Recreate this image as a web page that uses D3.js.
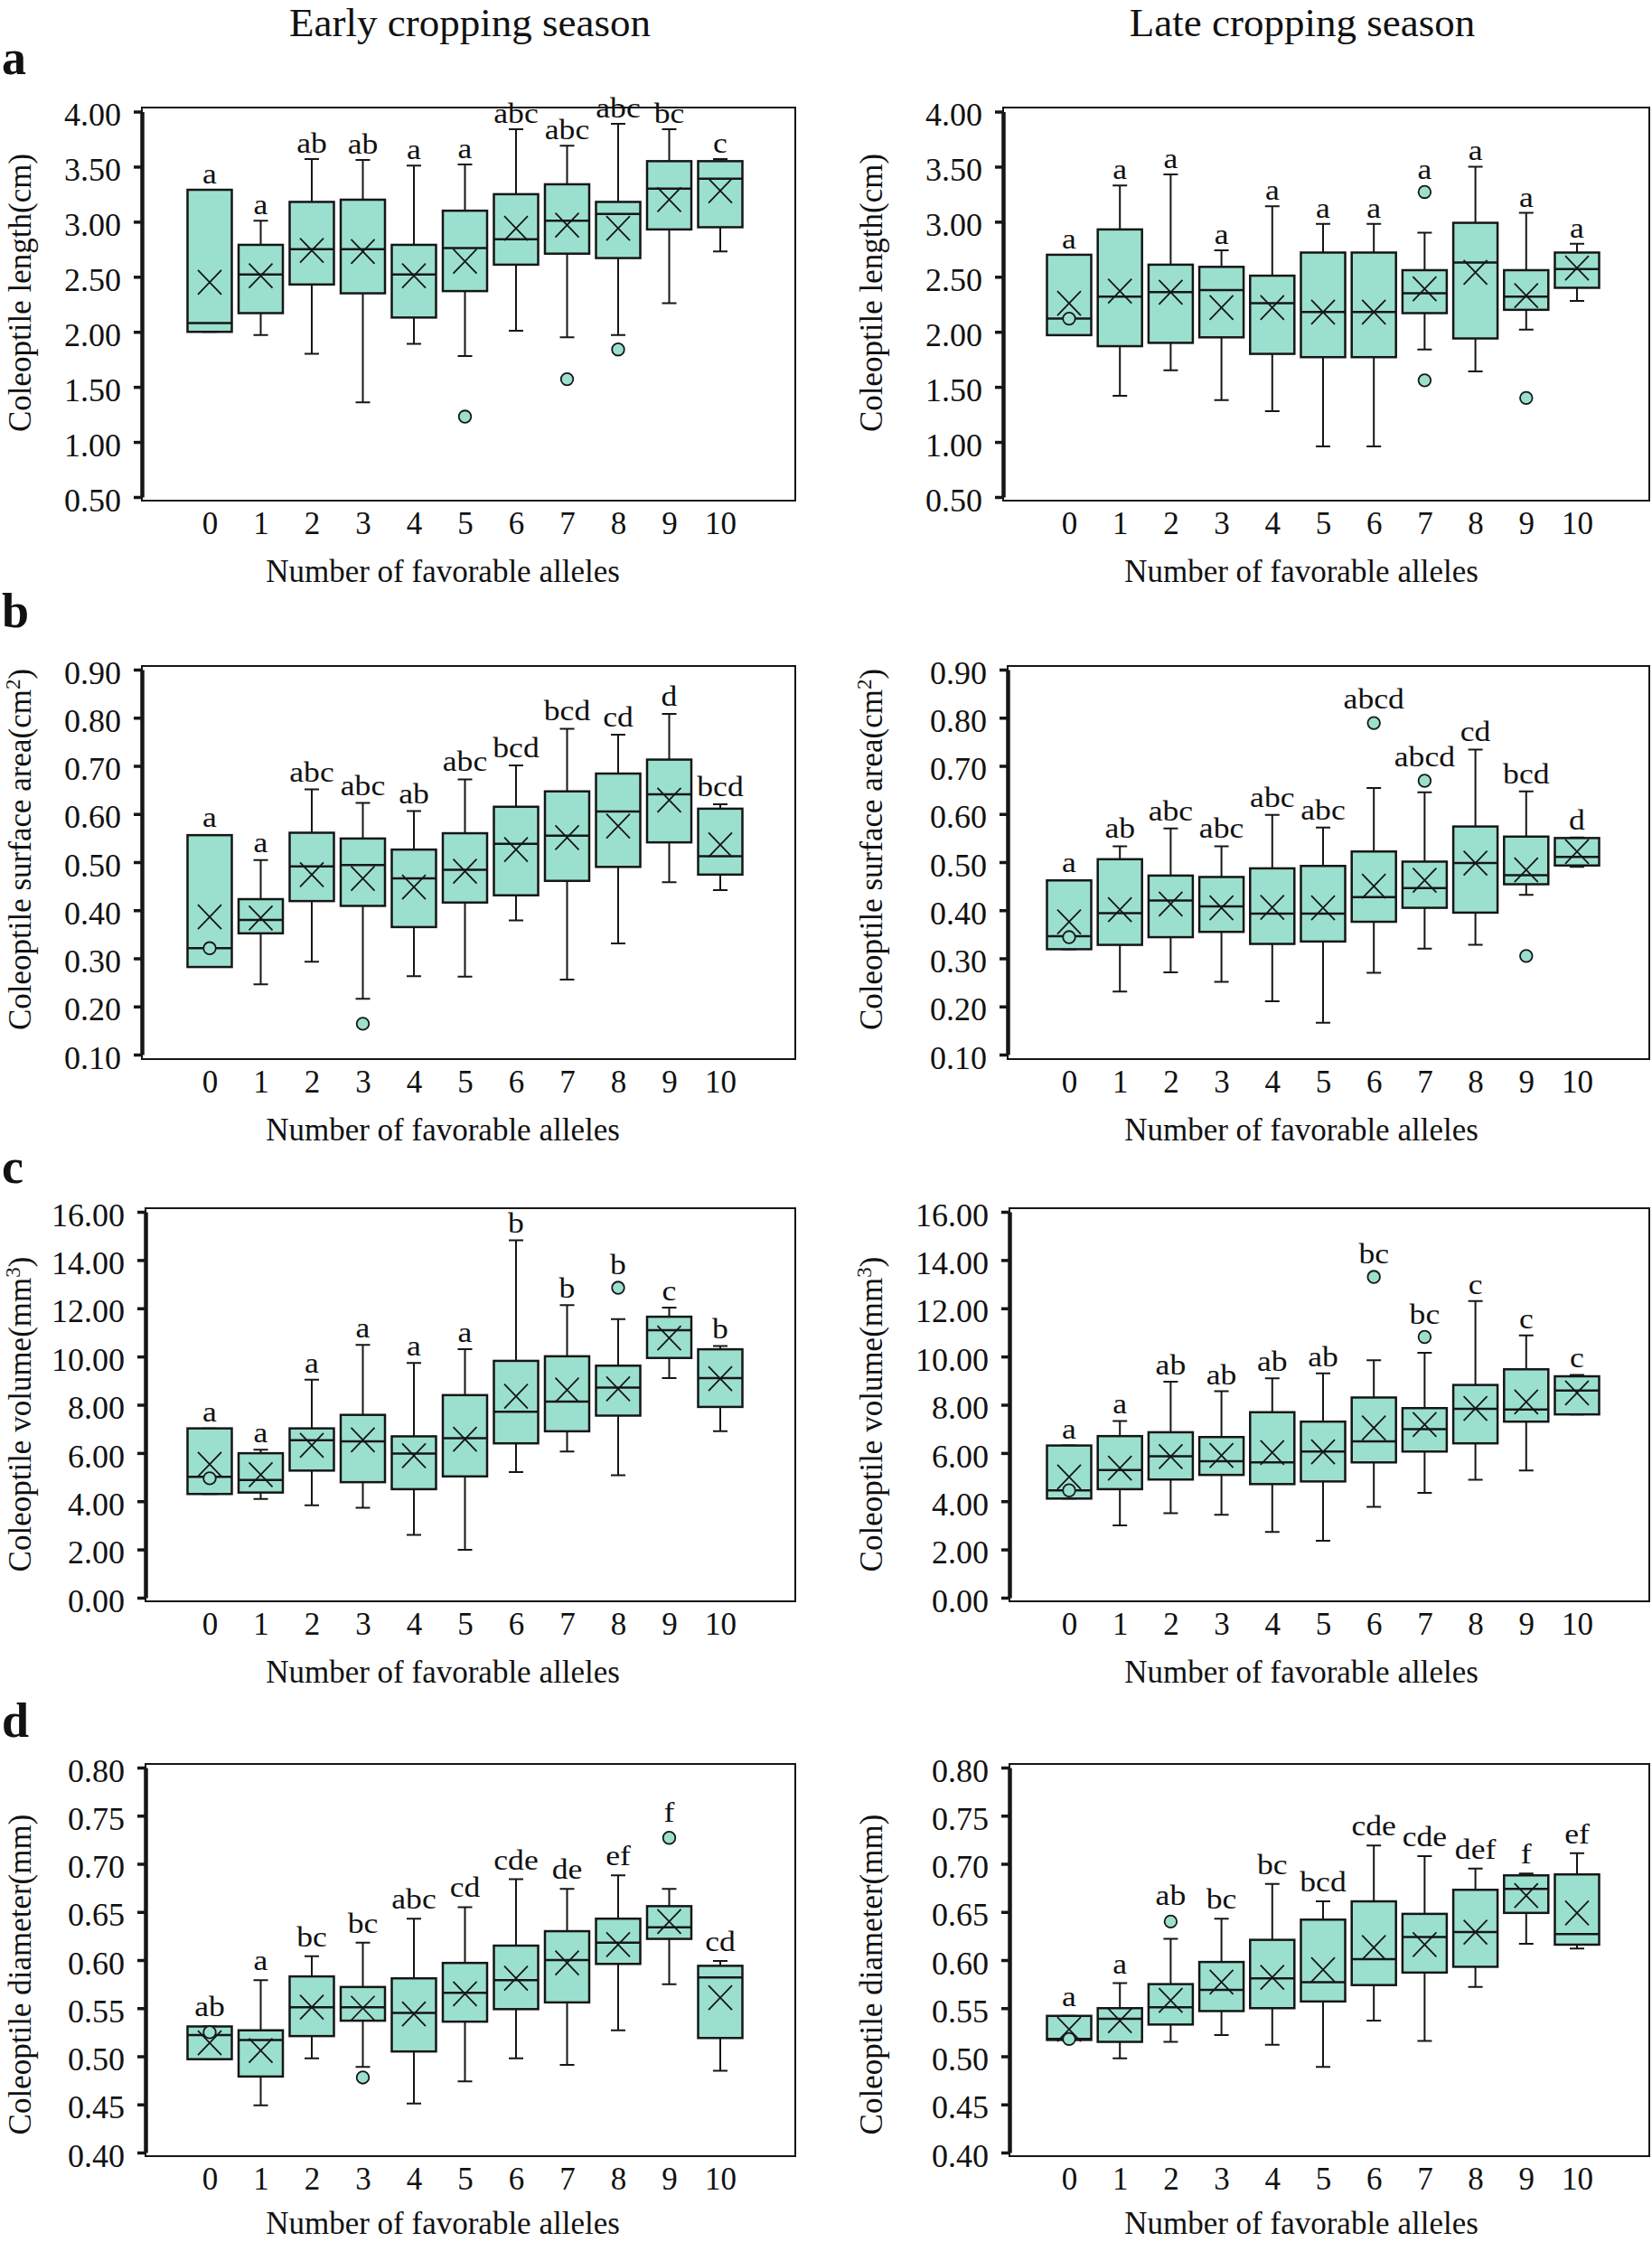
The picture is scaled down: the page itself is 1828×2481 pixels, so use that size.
<!DOCTYPE html>
<html>
<head>
<meta charset="utf-8">
<script src="https://cdn.jsdelivr.net/npm/d3@7"></script>
<style>
  body { margin: 0; background: #fff; }
  svg { display: block; }
  text { font-family: "Liberation Serif", "Times New Roman", serif; fill: #111; }
</style>
</head>
<body>
<svg id="fig"></svg>
<script>
const W = 1828, H = 2481
const categories = d3.range(0, 11)

// [min, q1, median, q3, max] per number of favorable alleles
const lengthEarlyBox = [[2.00,2.00,2.08,3.29,3.29],[1.97,2.17,2.52,2.79,3.01],[1.80,2.43,2.75,3.18,3.57],[1.36,2.35,2.75,3.20,3.56],[1.89,2.13,2.52,2.79,3.51],[1.78,2.37,2.76,3.10,3.52],[2.01,2.61,2.84,3.25,3.84],[1.95,2.71,3.01,3.34,3.69],[1.97,2.67,3.07,3.18,3.89],[2.26,2.93,3.30,3.55,3.84],[2.73,2.95,3.39,3.55,3.57]]
const lengthEarlyMean = [2.45,2.51,2.74,2.73,2.51,2.64,2.94,2.97,2.94,3.20,3.28]
const lengthEarlyOut = [[],[],[],[],[],[1.23],[],[1.57],[1.84],[],[]]
const lengthEarlyLetters = ['a','a','ab','ab','a','a','abc','abc','abc','bc','c']

const lengthLateBox = [[1.97,1.97,2.12,2.70,2.70],[1.42,1.87,2.32,2.93,3.33],[1.65,1.90,2.36,2.61,3.43],[1.38,1.95,2.38,2.59,2.74],[1.28,1.80,2.26,2.51,3.14],[0.96,1.77,2.18,2.72,2.98],[0.96,1.77,2.18,2.72,2.98],[1.84,2.17,2.35,2.56,2.90],[1.64,1.94,2.63,2.99,3.50],[2.02,2.20,2.32,2.56,3.08],[2.28,2.40,2.57,2.72,2.80]]
const lengthLateMean = [2.26,2.37,2.36,2.22,2.22,2.18,2.18,2.39,2.54,2.33,2.58]
const lengthLateOut = [[2.12],[],[],[],[],[],[],[3.27,1.56],[],[1.40],[]]
const lengthLateLetters = ['a','a','a','a','a','a','a','a','a','a','a']

const areaEarlyBox = [[0.282,0.282,0.321,0.556,0.556],[0.246,0.352,0.380,0.423,0.504],[0.293,0.419,0.491,0.561,0.651],[0.216,0.409,0.494,0.549,0.623],[0.263,0.365,0.466,0.526,0.606],[0.262,0.416,0.484,0.560,0.672],[0.379,0.431,0.538,0.615,0.701],[0.256,0.461,0.555,0.647,0.777],[0.331,0.490,0.605,0.684,0.765],[0.458,0.541,0.641,0.713,0.808],[0.442,0.474,0.512,0.611,0.620]]
const areaEarlyMean = [0.386,0.384,0.474,0.466,0.448,0.481,0.526,0.551,0.575,0.629,0.536]
const areaEarlyOut = [[0.321],[],[],[0.164],[],[],[],[],[],[],[]]
const areaEarlyLetters = ['a','a','abc','abc','ab','abc','bcd','bcd','cd','d','bcd']

const areaLateBox = [[0.319,0.319,0.346,0.462,0.462],[0.231,0.328,0.394,0.506,0.533],[0.271,0.344,0.420,0.472,0.570],[0.251,0.355,0.408,0.469,0.533],[0.211,0.330,0.393,0.487,0.598],[0.166,0.335,0.393,0.492,0.572],[0.270,0.376,0.427,0.522,0.654],[0.320,0.405,0.446,0.501,0.645],[0.328,0.395,0.498,0.574,0.734],[0.432,0.454,0.473,0.553,0.647],[0.490,0.493,0.511,0.550,0.551]]
const areaLateMean = [0.376,0.401,0.413,0.405,0.406,0.405,0.450,0.462,0.498,0.484,0.522]
const areaLateOut = [[0.344],[],[],[],[],[],[0.789],[0.669],[],[0.305],[]]
const areaLateLetters = ['a','ab','abc','abc','abc','abc','abcd','abcd','cd','bcd','d']

const volumeEarlyBox = [[4.30,4.30,5.01,7.02,7.02],[4.09,4.36,4.88,5.99,6.14],[3.83,5.27,6.53,7.02,9.04],[3.73,4.79,6.48,7.58,10.48],[2.60,4.50,5.98,6.69,9.73],[1.99,5.03,6.61,8.40,10.30],[5.21,6.40,7.71,9.82,14.82],[6.06,6.90,8.13,10.01,12.13],[5.08,7.55,8.71,9.62,11.55],[9.11,9.94,11.09,11.65,12.03],[6.90,7.91,9.11,10.30,10.44]]
const volumeEarlyMean = [5.53,5.10,6.32,6.54,5.89,6.57,8.35,8.61,8.66,10.77,9.08]
const volumeEarlyOut = [[4.95],[],[],[],[],[],[],[],[12.85],[],[]]
const volumeEarlyLetters = ['a','a','a','a','a','a','b','b','b','c','b']

const volumeLateBox = [[4.11,4.11,4.45,6.31,6.31],[3.00,4.50,5.29,6.70,7.33],[3.50,4.90,5.86,6.86,8.96],[3.44,5.09,5.66,6.66,8.56],[2.73,4.71,5.61,7.69,9.10],[2.36,4.82,6.06,7.30,9.30],[3.77,5.61,6.48,8.30,9.85],[4.35,6.06,6.99,7.86,10.15],[4.89,6.40,7.83,8.82,12.30],[5.27,7.30,7.80,9.47,10.88],[7.60,7.60,8.59,9.18,9.24]]
const volumeLateMean = [5.01,5.37,5.85,5.90,6.02,6.05,7.04,7.18,7.85,8.12,8.49]
const volumeLateOut = [[4.45],[],[],[],[],[],[13.30],[10.81],[],[],[]]
const volumeLateLetters = ['a','a','ab','ab','ab','ab','bc','bc','c','c','c']

const diameterEarlyBox = [[0.497,0.497,0.522,0.531,0.531],[0.449,0.479,0.517,0.527,0.579],[0.498,0.521,0.551,0.583,0.604],[0.489,0.537,0.551,0.572,0.618],[0.451,0.505,0.545,0.581,0.643],[0.474,0.536,0.566,0.597,0.655],[0.498,0.549,0.579,0.615,0.684],[0.491,0.556,0.600,0.630,0.674],[0.527,0.596,0.618,0.643,0.688],[0.575,0.622,0.634,0.656,0.674],[0.485,0.519,0.582,0.594,0.599]]
const diameterEarlyMean = [0.514,0.506,0.551,0.550,0.544,0.565,0.581,0.597,0.616,0.640,0.561]
const diameterEarlyOut = [[0.525],[],[],[0.478],[],[],[],[],[],[0.727],[]]
const diameterEarlyLetters = ['ab','a','bc','bc','abc','cd','cde','de','ef','f','cd']

const diameterLateBox = [[0.517,0.517,0.518,0.542,0.542],[0.498,0.515,0.539,0.550,0.576],[0.515,0.533,0.551,0.575,0.622],[0.522,0.547,0.569,0.598,0.643],[0.512,0.550,0.581,0.621,0.679],[0.489,0.557,0.577,0.642,0.661],[0.537,0.574,0.601,0.661,0.719],[0.516,0.587,0.624,0.648,0.708],[0.572,0.593,0.629,0.673,0.695],[0.617,0.649,0.674,0.688,0.690],[0.612,0.616,0.627,0.689,0.711]]
const diameterLateMean = [0.528,0.537,0.558,0.577,0.582,0.590,0.613,0.616,0.629,0.667,0.649]
const diameterLateOut = [[0.518],[],[0.640],[],[],[],[],[],[],[],[]]
const diameterLateLetters = ['a','a','ab','bc','bc','bcd','cde','cde','def','f','ef']

const lengthTicks = [0.5,1.0,1.5,2.0,2.5,3.0,3.5,4.0]
const areaTicks = [0.1,0.2,0.3,0.4,0.5,0.6,0.7,0.8,0.9]
const volumeTicks = [0,2,4,6,8,10,12,14,16]
const diameterTicks = [0.40,0.45,0.50,0.55,0.60,0.65,0.70,0.75,0.80]

const seasons = ['Early cropping season', 'Late cropping season']
const xTitle = 'Number of favorable alleles'

// layout, in page pixels
const cols = [
  {axisX: [157,157,161,161], right: 880, cat0: 232, cat10: 797, yTitleX: 22, xTitleX: 490, seasonX: 520},
  {axisX: [1110,1115,1117,1117], right: 1825, cat0: 1183, cat10: 1745, yTitleX: 964, xTitleX: 1440, seasonX: 1441}
]
const rows = [
  {y0: 119, y1: 554, vTop: 123.5, vBot: 550, titleC: 324, gap: 7, tag: 'a', tagY: 82, title: ['Coleoptile length(cm)']},
  {y0: 737, y1: 1172, vTop: 741, vBot: 1167, titleC: 940, gap: 9, tag: 'b', tagY: 694, title: ['Coleoptile surface area(cm', '2', ')']},
  {y0: 1337, y1: 1772, vTop: 1341, vBot: 1768, titleC: 1565, gap: 8, tag: 'c', tagY: 1309, title: ['Coleoptile volume(mm', '3', ')']},
  {y0: 1952, y1: 2386, vTop: 1956, vBot: 2382, titleC: 2185, gap: 11, tag: 'd', tagY: 1922, title: ['Coleoptile diameter(mm)']}
]

const panels = [
  {row: 0, col: 0, box: lengthEarlyBox, mean: lengthEarlyMean, out: lengthEarlyOut, letters: lengthEarlyLetters, ticks: lengthTicks},
  {row: 0, col: 1, box: lengthLateBox, mean: lengthLateMean, out: lengthLateOut, letters: lengthLateLetters, ticks: lengthTicks},
  {row: 1, col: 0, box: areaEarlyBox, mean: areaEarlyMean, out: areaEarlyOut, letters: areaEarlyLetters, ticks: areaTicks},
  {row: 1, col: 1, box: areaLateBox, mean: areaLateMean, out: areaLateOut, letters: areaLateLetters, ticks: areaTicks},
  {row: 2, col: 0, box: volumeEarlyBox, mean: volumeEarlyMean, out: volumeEarlyOut, letters: volumeEarlyLetters, ticks: volumeTicks},
  {row: 2, col: 1, box: volumeLateBox, mean: volumeLateMean, out: volumeLateOut, letters: volumeLateLetters, ticks: volumeTicks},
  {row: 3, col: 0, box: diameterEarlyBox, mean: diameterEarlyMean, out: diameterEarlyOut, letters: diameterEarlyLetters, ticks: diameterTicks},
  {row: 3, col: 1, box: diameterLateBox, mean: diameterLateMean, out: diameterLateOut, letters: diameterLateLetters, ticks: diameterTicks}
]

const fill = '#9be0cf', ink = '#161616'

const svg = d3.select('#fig')
  .attr('width', W).attr('height', H)

svg.selectAll('text.season')
  .data(seasons)
  .join('text')
    .attr('class', 'season')
    .attr('x', (d, i) => cols[i].seasonX)
    .attr('y', 40)
    .attr('text-anchor', 'middle')
    .attr('font-size', 45)
    .text(d => d)

svg.selectAll('text.tag')
  .data(rows)
  .join('text')
    .attr('class', 'tag')
    .attr('x', 2)
    .attr('y', d => d.tagY)
    .attr('font-size', 54)
    .attr('font-weight', 'bold')
    .text(d => d.tag)

const boxW = 49, capW = 16, hx = 13, hy = 13.5

panels.forEach(p => {
  const c = cols[p.col], r = rows[p.row]
  const ax = c.axisX[p.row]
  const x = d3.scalePoint().domain(categories).range([c.cat0, c.cat10])
  const y = d3.scaleLinear()
    .domain([p.ticks[0], p.ticks[p.ticks.length - 1]])
    .range([r.vBot, r.vTop])
  const g = svg.append('g')

  g.append('rect')
    .attr('x', ax).attr('y', r.y0)
    .attr('width', c.right - ax).attr('height', r.y1 - r.y0)
    .attr('fill', 'none').attr('stroke', ink).attr('stroke-width', 2)

  const ya = g.append('g')
    .attr('transform', `translate(${ax},0)`)
    .call(d3.axisLeft(y).tickValues(p.ticks).tickFormat(d3.format('.2f'))
      .tickSize(9).tickSizeOuter(0).tickPadding(14))
    .attr('font-size', 36)
  ya.select('.domain').attr('stroke', ink).attr('stroke-width', 4.5)
  ya.selectAll('.tick line').attr('stroke', ink).attr('stroke-width', 3.5)
  ya.selectAll('.tick text').attr('dy', '0.42em')

  const xa = g.append('g')
    .attr('transform', `translate(0,${r.y1})`)
    .call(d3.axisBottom(x).tickSize(0).tickPadding(12))
    .attr('font-size', 35)
  xa.select('.domain').remove()

  // y title, rotated
  const yt = g.append('text')
    .attr('transform', `translate(${c.yTitleX},${r.titleC}) rotate(-90)`)
    .attr('text-anchor', 'middle')
    .attr('dy', '0.35em')
    .attr('font-size', 35)
  yt.append('tspan').text(r.title[0])
  if (r.title.length > 1) {
    yt.append('tspan').attr('font-size', 23).attr('baseline-shift', 'super').text(r.title[1])
    yt.append('tspan').text(r.title[2])
  }

  g.append('text')
    .attr('x', c.xTitleX).attr('y', Math.min(r.y1 + 90, H - 9))
    .attr('text-anchor', 'middle')
    .attr('font-size', 35)
    .text(xTitle)

  const items = g.selectAll('g.bx')
    .data(p.box.map((b, i) => ({cat: categories[i], b, mean: p.mean[i], out: p.out[i], lab: p.letters[i]})))
    .join('g')
      .attr('class', 'bx')

  items.append('path')
    .attr('d', d => {
      const cx = x(d.cat)
      return `M${cx},${y(d.b[3])}V${y(d.b[4])}M${cx - capW / 2},${y(d.b[4])}H${cx + capW / 2}` +
        `M${cx},${y(d.b[1])}V${y(d.b[0])}M${cx - capW / 2},${y(d.b[0])}H${cx + capW / 2}`
    })
    .attr('stroke', ink).attr('stroke-width', 2).attr('fill', 'none')

  items.append('rect')
    .attr('x', d => x(d.cat) - boxW / 2)
    .attr('y', d => y(d.b[3]))
    .attr('width', boxW)
    .attr('height', d => y(d.b[1]) - y(d.b[3]))
    .attr('fill', fill).attr('stroke', ink).attr('stroke-width', 2.5)

  items.append('line')
    .attr('x1', d => x(d.cat) - boxW / 2).attr('x2', d => x(d.cat) + boxW / 2)
    .attr('y1', d => y(d.b[2])).attr('y2', d => y(d.b[2]))
    .attr('stroke', ink).attr('stroke-width', 2.5)

  items.append('path')
    .attr('d', d => {
      const cx = x(d.cat), cy = y(d.mean)
      return `M${cx - hx},${cy - hy}L${cx + hx},${cy + hy}M${cx - hx},${cy + hy}L${cx + hx},${cy - hy}`
    })
    .attr('stroke', ink).attr('stroke-width', 1.8).attr('fill', 'none')

  items.selectAll('circle')
    .data(d => d.out.map(v => ({cat: d.cat, v})))
    .join('circle')
      .attr('cx', d => x(d.cat))
      .attr('cy', d => y(d.v))
      .attr('r', 6.8)
      .attr('fill', fill).attr('stroke', ink).attr('stroke-width', 1.8)

  // significance letters, slightly wide like the original
  items.append('text')
    .attr('transform', d => {
      const top = d3.max([d.b[4], ...d.out])
      const above = d.out.some(v => v > d.b[4]) ? 7 : 0
      return `translate(${x(d.cat)},${y(top) - r.gap - above}) scale(1.15,1)`
    })
    .attr('text-anchor', 'middle')
    .attr('font-size', 31)
    .text(d => d.lab)
})
</script>
</body>
</html>
